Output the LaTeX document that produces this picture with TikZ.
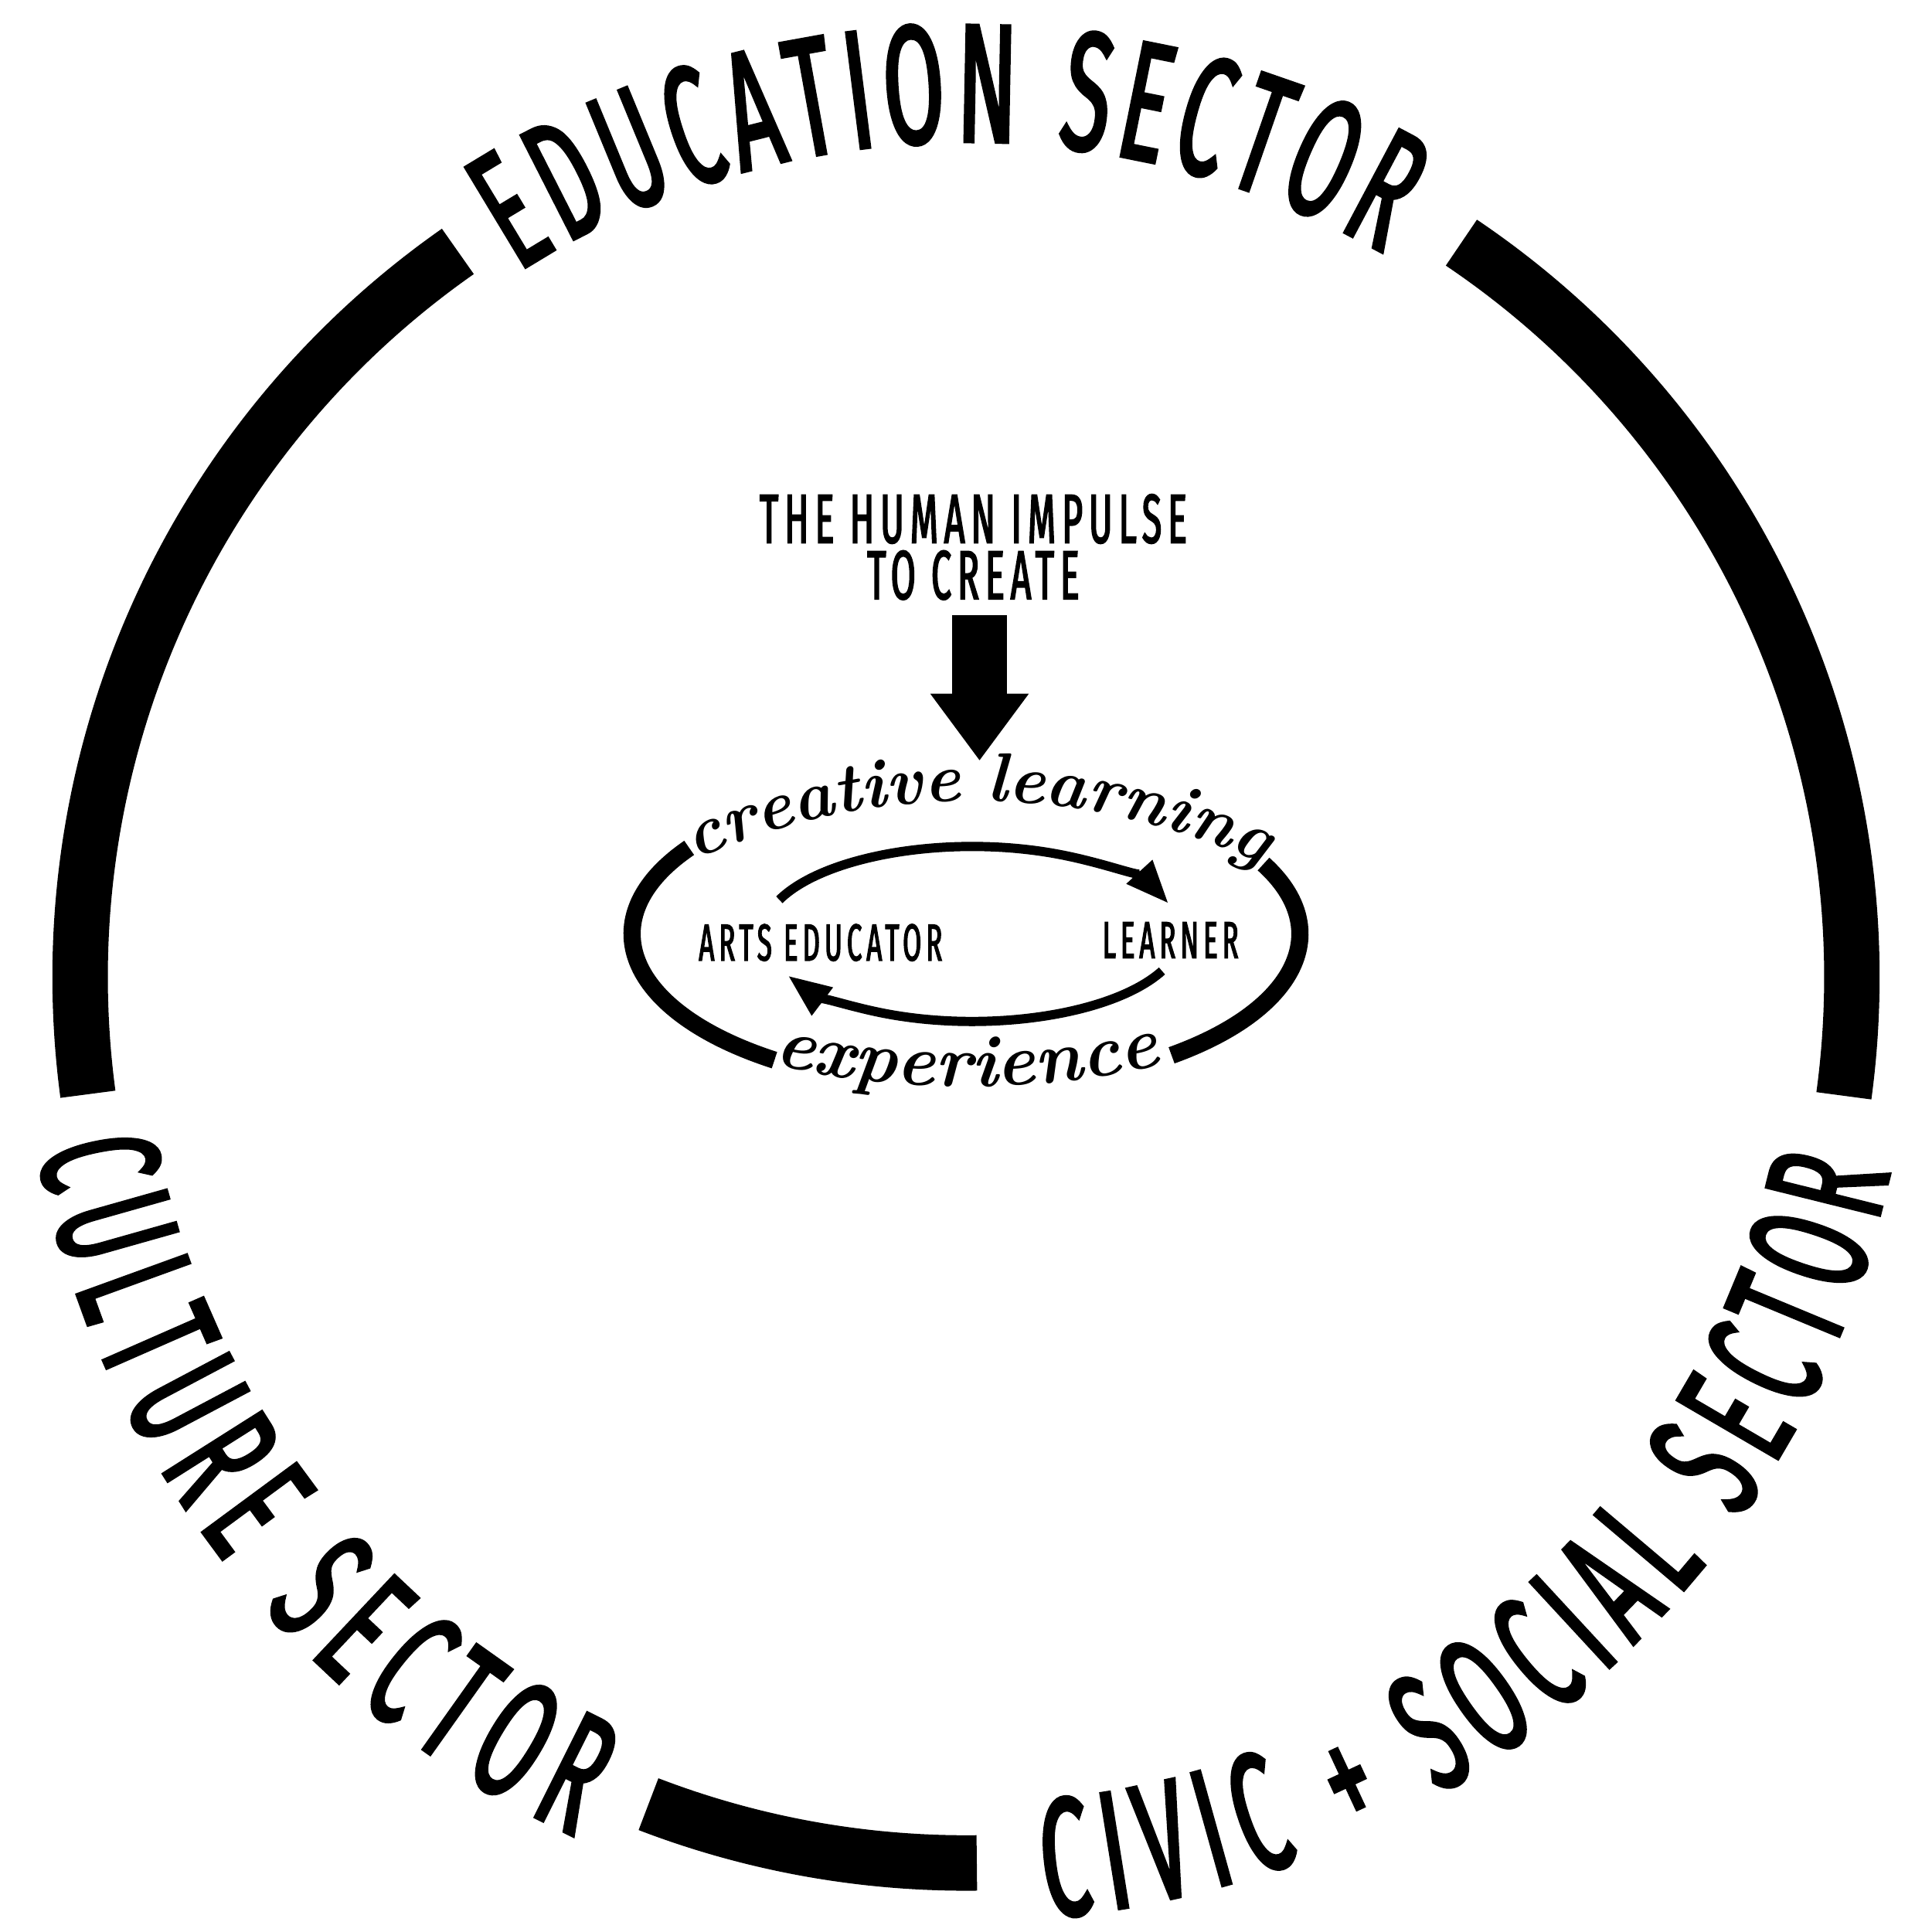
\documentclass[tikz,border=0pt]{standalone}
\usepackage{fontspec}
\usepackage{tikz}
\usetikzlibrary{arrows.meta,positioning,calc,decorations.text}

\newfontfamily\sectorfont{Fira Sans}[FakeStretch=0.52, FakeBold=2, LetterSpace=8.7]
\newfontfamily\ringfont{Fira Sans}[FakeStretch=0.52, FakeBold=2]

\begin{document}
\begin{tikzpicture}[x=0.1mm, y=0.1mm,
    ring/.style={line width=4.5mm},
    loopline/.style={line width=1.4mm},
    cyclearrow/.style={line width=0.75mm, -{Triangle[length=3.4mm, width=2.9mm, line width=0pt]}},
    bigarrow/.style={line width=4.5mm, -{Triangle[length=5.4mm, width=8mm, line width=0pt]}},
    sectortext/.style 2 args={decorate, decoration={text along path, text align=center,
        text={|\ringfont\fontsize{39}{39}\selectfont\kern#1|#2}}},
    handtext/.style 2 args={decorate, decoration={text along path, text align=center,
        text={|\bfseries\itshape\fontsize{#1}{#1}\selectfont|#2}}},
    rolelabel/.style={font={\sectorfont\fontsize{12}{13}\selectfont}}
]
    \fill[white] (-784,-775) rectangle (784,793);
    \useasboundingbox (-784,-775) rectangle (784,793);

    % Outer ring of sectors
    \coordinate (ringcentre) at (0,0);
    \draw[ring] ($(ringcentre)+(-7.7:719)$) arc[start angle=-7.7, end angle=56, radius=719];
    \draw[ring] ($(ringcentre)+(125:719)$) arc[start angle=125, end angle=187.6, radius=719];
    \draw[ring] ($(ringcentre)+(249:719)$) arc[start angle=249, end angle=270.7, radius=719];

    % Sector names in the gaps
    \path[sectortext={2pt}{EDUCATION SECTOR}] ($(ringcentre)+(127:678)$) arc[start angle=127, end angle=56, radius=678];
    \path[sectortext={4pt}{CULTURE SECTOR}] ($(ringcentre)+(183:766)$) arc[start angle=183, end angle=252, radius=766];
    \path[sectortext={3.6pt}{CIVIC + SOCIAL SECTOR}] ($(ringcentre)+(267:766)$) arc[start angle=267, end angle=355, radius=766];

    % The impulse and its arrow
    \node[font={\sectorfont\fontsize{16}{13}\selectfont}, align=center] (impulse) at (6,349) {THE HUMAN IMPULSE\\TO CREATE};
    \coordinate (impulsetip) at (11,176);
    \draw[bigarrow] (impulse.south -| impulsetip) -- (impulsetip);

    % Creative learning loop
    \coordinate (loopcentre) at (0,35);
    \draw[loopline] ($(loopcentre)+(-52:271 and 125)$) arc[start angle=-52, end angle=27, x radius=271, y radius=125];
    \draw[loopline] ($(loopcentre)+(146:271 and 125)$) arc[start angle=146, end angle=235, x radius=271, y radius=125];

    \coordinate (scripttop) at (6,-413);
    \path[handtext={16}{creative}] ($(scripttop)+(118:556)$) arc[start angle=118, end angle=87, radius=556];
    \path[handtext={16}{learning}] ($(scripttop)+(93:556)$) arc[start angle=93, end angle=61, radius=556];
    \coordinate (scriptbottom) at (1,611);
    \path[handtext={17}{experience}] ($(scriptbottom)+(254:700)$) arc[start angle=254, end angle=286, radius=700];

    % Educator and learner
    \node[rolelabel] (educator) at (-118,28) {ARTS EDUCATOR};
    \node[rolelabel] (learner) at (166,30) {LEARNER};

    \coordinate (innercentre) at (5,35);
    \draw[cyclearrow] ($(innercentre)+(157:170 and 71)$) arc[start angle=157, end angle=21, x radius=170, y radius=71];
    \draw[cyclearrow] ($(innercentre)+(-25:170 and 71)$) arc[start angle=-25, end angle=-151, x radius=170, y radius=71];
\end{tikzpicture}
\end{document}
